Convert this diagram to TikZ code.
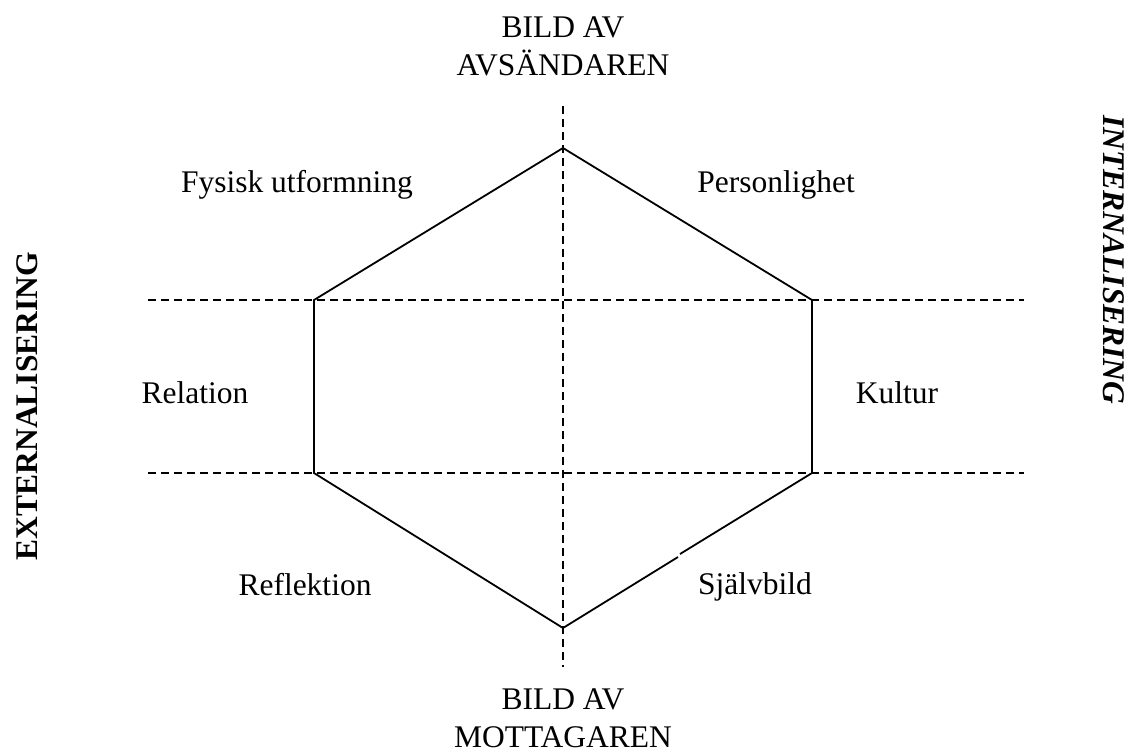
\documentclass[tikz,border=0pt]{standalone}
\usepackage{fontspec}
\setmainfont{Liberation Serif}
\begin{document}
\begin{tikzpicture}[x=1pt,y=-1pt,
  lbl/.style={font=\fontsize{31.5}{36}\selectfont, inner sep=0pt, anchor=base},
  side/.style={font=\fontsize{31.5}{36}\selectfont\bfseries, inner sep=0pt, anchor=center},
  edge/.style={line width=1.8pt, line cap=butt},
  guide/.style={line width=1.5pt, dash pattern=on 8pt off 5pt}]
\useasboundingbox (0,0) rectangle (1139,753);
% hexagon vertices
\coordinate (T) at (563,148);
\coordinate (UL) at (314,300);
\coordinate (UR) at (812,300);
\coordinate (LL) at (314,473);
\coordinate (LR) at (812,473);
\coordinate (B) at (563,628);
\coordinate (K1) at (678,557);
\coordinate (K2) at (680,554);
% guide line ends
\coordinate (VT) at (563,106);
\coordinate (VB) at (563,667);
\coordinate (H1L) at (148,300);
\coordinate (H1R) at (1024,300);
\coordinate (H2L) at (148,473);
\coordinate (H2R) at (1024,473);
% dashed guides
\draw[guide] (VT) -- (VB);
\draw[guide] (H1L) -- (H1R);
\draw[guide] (H2L) -- (H2R);
% hexagon
\draw[edge, line join=miter] (LR) -- (UR) -- (T) -- (UL) -- (LL) -- (B) -- (K1);
\draw[edge] (K2) -- (LR);
% labels
\node[lbl] (t1) at (563,37) {BILD AV};
\node[lbl] (t2) at (563,75) {AVSÄNDAREN};
\node[lbl] (b1) at (563,709) {BILD AV};
\node[lbl] (b2) at (563,747) {MOTTAGAREN};
\node[lbl] (fys) at (297,192) {Fysisk utformning};
\node[lbl] (per) at (776,192) {Personlighet};
\node[lbl] (rel) at (195,403) {Relation};
\node[lbl] (kul) at (897,403) {Kultur};
\node[lbl] (ref) at (305,595) {Reflektion};
\node[lbl] (sja) at (755,594) {Självbild};
\node[side, rotate=90] (ext) at (27,406) {EXTERNALISERING};
\node[side, rotate=-90, font=\fontsize{31.5}{36}\selectfont\bfseries\itshape] (int) at (1114,260) {INTERNALISERING};
\end{tikzpicture}
\end{document}
